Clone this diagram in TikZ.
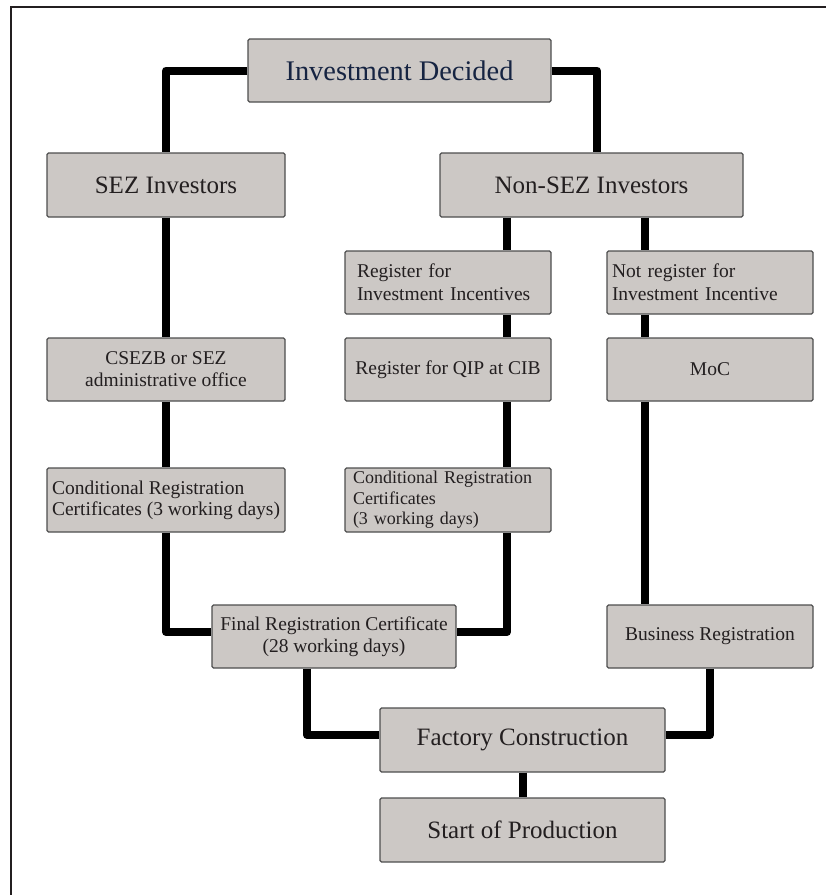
\documentclass[tikz,border=0pt]{standalone}
\usepackage{fontspec}
\setmainfont{Liberation Serif}

\definecolor{boxgray}{RGB}{204,200,197}
\definecolor{boxline}{RGB}{78,78,78}
\definecolor{inktext}{RGB}{35,31,32}
\definecolor{navytext}{RGB}{22,36,66}

\tikzset{
  stage/.style={draw=boxline, line width=1.2pt, fill=boxgray, rounded corners=1.5pt,
    text=inktext, inner sep=0pt, minimum height=63pt},
  bigtext/.style={font=\fontsize{25}{30}\selectfont},
  smalltext/.style={font=\fontsize{19.5}{22}\selectfont, align=center},
  lefttext/.style={font=\fontsize{19.5}{23}\selectfont, align=left},
  link/.style={line width=8pt, line join=round}
}

\begin{document}
\begin{tikzpicture}
[
  x=1pt, y=-1pt
]
\useasboundingbox (0,0) rectangle (826,895);

% frame
\draw[line width=2pt, inktext] (11,895) -- (11,6.5) -- (826,6.5);

% columns for the connectors
\coordinate (nscol) at (597,0);
\coordinate (midcol) at (507,0);
\coordinate (rightcol) at (645,0);
\coordinate (feedcol) at (307,0);

\node[stage, minimum width=303pt, text=navytext, font=\fontsize{28.4}{32}\selectfont] (inv) at (399.5,70.5) {Investment Decided};

\node[stage, bigtext, minimum width=238pt, minimum height=64pt] (sez) at (166,185) {SEZ Investors};
\node[stage, bigtext, minimum width=303pt, minimum height=64pt] (nonsez) at (591.5,185) {Non-SEZ Investors};

\node[stage, lefttext, inner xsep=12pt, text width=182pt] (reg) at (448,282.5) {Register for\\Investment Incentives};
\node[stage, lefttext, inner xsep=5pt, text width=196pt] (notreg) at (710,282.5) {Not register for\\Investment Incentive};

\node[stage, smalltext, minimum width=238pt] (cse) at (166,369.5) {CSEZB or SEZ\\administrative office};
\node[stage, smalltext, minimum width=206pt] (qip) at (448,369.5) {Register for QIP at CIB};
\node[stage, smalltext, minimum width=206pt] (moc) at (710,369.5) {MoC};

\node[stage, lefttext, font=\fontsize{19.5}{21}\selectfont, minimum width=238pt, minimum height=64pt] (condl) at (166,500)
  {Conditional Registration\\Certificates (3 working days)};
\node[stage, lefttext, font=\fontsize{18}{20.5}\selectfont, inner xsep=8pt, text width=190pt, minimum height=64pt] (condm) at (448,500)
  {Conditional Registration\\Certificates\\(3 working days)};

\node[stage, smalltext, minimum width=244pt] (final) at (334,636.5) {Final Registration Certificate\\(28 working days)};
\node[stage, smalltext, minimum width=206pt] (bus) at (710,636.5) {Business Registration};

\node[stage, bigtext, minimum width=285pt, minimum height=64pt] (fact) at (522.5,740) {Factory Construction};
\node[stage, bigtext, minimum width=285pt, minimum height=64pt] (start) at (522.5,830) {Start of Production};

% elbow connectors
\draw[link] (inv.west) -| (sez.north);
\draw[link] (inv.east) -| (nonsez.north -| nscol);
\draw[link] (condl.south) |- ([yshift=4.5pt]final.west);
\draw[link] (condm.south -| midcol) |- ([yshift=4.5pt]final.east);
\draw[link] (final.south -| feedcol) |- ([yshift=5pt]fact.west);
\draw[link] (bus.south) |- ([yshift=5pt]fact.east);

% straight connectors
\path[link]
  (sez.south) edge (cse.north)
  (cse.south) edge (condl.north)
  (nonsez.south -| midcol) edge (reg.north -| midcol)
  (reg.south -| midcol) edge (qip.north -| midcol)
  (qip.south -| midcol) edge (condm.north -| midcol)
  (nonsez.south -| rightcol) edge (notreg.north -| rightcol)
  (notreg.south -| rightcol) edge (moc.north -| rightcol)
  (moc.south -| rightcol) edge (bus.north -| rightcol)
  (fact.south) edge (start.north);
\end{tikzpicture}
\end{document}
